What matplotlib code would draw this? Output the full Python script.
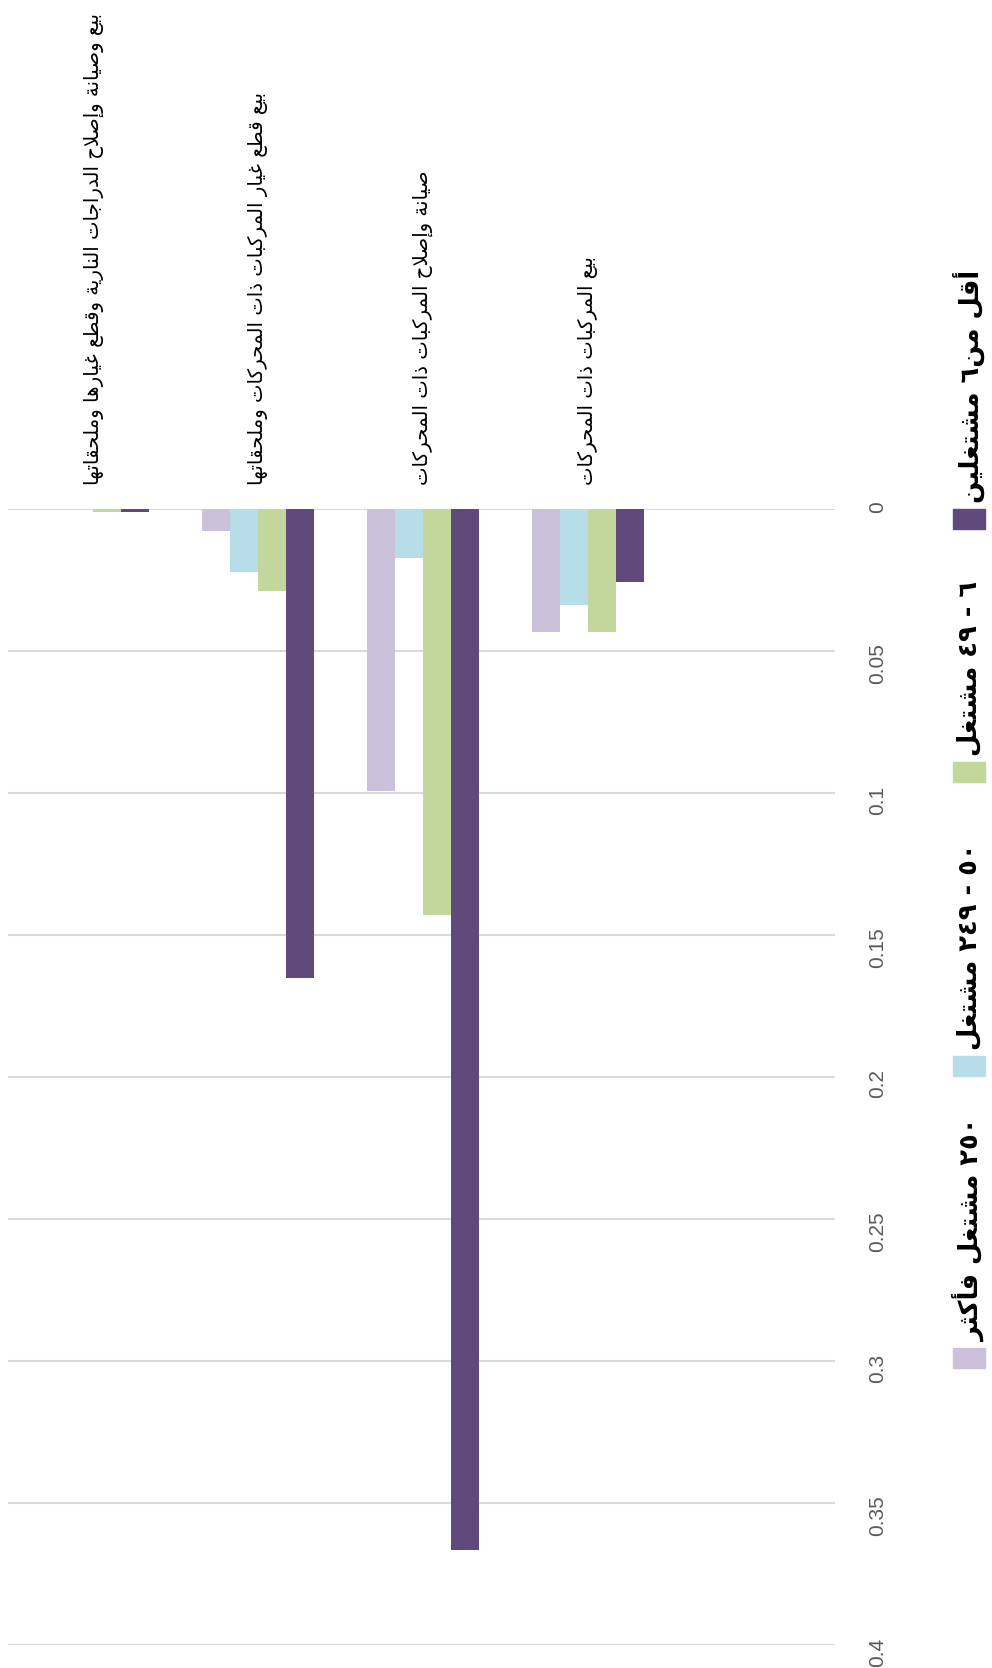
import matplotlib
matplotlib.use('Agg')
import matplotlib.pyplot as plt
from matplotlib.patches import Rectangle
import numpy as np

# data
categories = [
    'بيع وصيانة وإصلاح الدراجات النارية وقطع غيارها وملحقاتها',
    'بيع قطع غيار المركبات ذات المحركات وملحقاتها',
    'صيانة وإصلاح المركبات ذات المحركات',
    'بيع المركبات ذات المحركات',
]
series_names = ['٢٥٠ مشتغل فأكثر', '٥٠ - ٢٤٩ مشتغل', '٦ - ٤٩ مشتغل', 'أقل من٦ مشتغلين']
v_250_plus = [0.0, 0.0077, 0.0994, 0.0432]
v_50_249 = [0.0, 0.0223, 0.0174, 0.0337]
v_6_49 = [0.0012, 0.0289, 0.1428, 0.0432]
v_under_6 = [0.0009, 0.1652, 0.3665, 0.0257]
yticks = [0, 0.05, 0.1, 0.15, 0.2, 0.25, 0.3, 0.35, 0.4]
ytick_labels = ['0', '0.05', '0.1', '0.15', '0.2', '0.25', '0.3', '0.35', '0.4']

colors = ['#CCC1DA', '#B7DEE8', '#C3D69B', '#604A7B']

# --- tiny arabic shaper: matplotlib has no shaping / bidi of its own
FORMS = {
    '\u0621': (0xFE80, 1), '\u0622': (0xFE81, 2), '\u0623': (0xFE83, 2), '\u0624': (0xFE85, 2),
    '\u0625': (0xFE87, 2), '\u0626': (0xFE89, 4), '\u0627': (0xFE8D, 2), '\u0628': (0xFE8F, 4),
    '\u0629': (0xFE93, 2), '\u062A': (0xFE95, 4), '\u062B': (0xFE99, 4), '\u062C': (0xFE9D, 4),
    '\u062D': (0xFEA1, 4), '\u062E': (0xFEA5, 4), '\u062F': (0xFEA9, 2), '\u0630': (0xFEAB, 2),
    '\u0631': (0xFEAD, 2), '\u0632': (0xFEAF, 2), '\u0633': (0xFEB1, 4), '\u0634': (0xFEB5, 4),
    '\u0635': (0xFEB9, 4), '\u0636': (0xFEBD, 4), '\u0637': (0xFEC1, 4), '\u0638': (0xFEC5, 4),
    '\u0639': (0xFEC9, 4), '\u063A': (0xFECD, 4), '\u0641': (0xFED1, 4), '\u0642': (0xFED5, 4),
    '\u0643': (0xFED9, 4), '\u0644': (0xFEDD, 4), '\u0645': (0xFEE1, 4), '\u0646': (0xFEE5, 4),
    '\u0647': (0xFEE9, 4), '\u0648': (0xFEED, 2), '\u0649': (0xFEEF, 2), '\u064A': (0xFEF1, 4),
}
LAM_ALEF = {'\u0622': 0xFEF5, '\u0623': 0xFEF7, '\u0625': 0xFEF9, '\u0627': 0xFEFB}


def shape(text):
    out = []
    prev_dual = False
    i = 0
    n = len(text)
    while i < n:
        c = text[i]
        if c not in FORMS:
            out.append(c)
            prev_dual = False
            i += 1
            continue
        base, k = FORMS[c]
        if c == '\u0644' and i + 1 < n and text[i + 1] in LAM_ALEF:
            out.append(chr(LAM_ALEF[text[i + 1]] + (1 if prev_dual else 0)))
            prev_dual = False
            i += 2
            continue
        nxt = text[i + 1] if i + 1 < n else ''
        to_next = k == 4 and nxt in FORMS
        if prev_dual and to_next:
            form = base + 3
        elif prev_dual:
            form = base + 1 if k > 1 else base
        elif to_next:
            form = base + 2
        else:
            form = base
        out.append(chr(form))
        prev_dual = k == 4
        i += 1
    return out


def rtl(text):
    runs = []
    for g in shape(text):
        num = g.isdigit()
        if runs and runs[-1][0] == num:
            runs[-1][1].append(g)
        else:
            runs.append([num, [g]])
    s = ''
    for num, r in reversed(runs):
        s += ''.join(r if num else reversed(r))
    return s


W, H = 992, 1668
fig = plt.figure(figsize=(W / 100, H / 100), dpi=100)
ax = fig.add_axes([8 / W, 1 - 1645 / H, 827 / W, (1645 - 509) / H])

x = np.arange(len(categories))
bw = 0.17
series = [v_250_plus, v_50_249, v_6_49, v_under_6]
for k, vals in enumerate(series):
    ax.bar(x + (k - 1.5) * bw, vals, bw, color=colors[k], zorder=2)

ax.set_xlim(-0.518, 4.50)
ax.set_ylim(0.4, 0)
ax.set_xticks([])
ax.set_yticks(yticks)
ax.set_yticklabels(ytick_labels, family=['Liberation Sans', 'DejaVu Sans'])
ax.yaxis.tick_right()
ax.tick_params(axis='y', length=0, pad=24, labelrotation=90, labelsize=15, labelcolor='#595959')
ax.yaxis.grid(True, color='#D9D9D9', lw=1.5, zorder=0)
ax.set_axisbelow(True)
for s in ax.spines.values():
    s.set_visible(False)

# category labels above the zero line
for i, cat in enumerate(categories):
    ax.annotate(rtl(cat), xy=(i, 1), xycoords=('data', 'axes fraction'),
                xytext=(0, 17), textcoords='offset points', rotation=90,
                rotation_mode='anchor', ha='left', va='center',
                fontsize=14.2, family='DejaVu Sans', color='black')

# legend, stacked down the right edge
legend_order = [3, 2, 1, 0]
square_tops = [509, 762, 1056, 1348]
for k, top in zip(legend_order, square_tops):
    fig.patches.append(Rectangle((953 / W, 1 - (top + 20) / H), 32 / W, 20 / H,
                                 transform=fig.transFigure, color=colors[k]))
    fig.text(969 / W, 1 - (top - 6) / H, rtl(series_names[k]), rotation=90,
             rotation_mode='anchor', ha='left', va='center', fontsize=18.5,
             fontweight='bold', family='DejaVu Sans', color='black')

fig.savefig('out.png', dpi=100)
